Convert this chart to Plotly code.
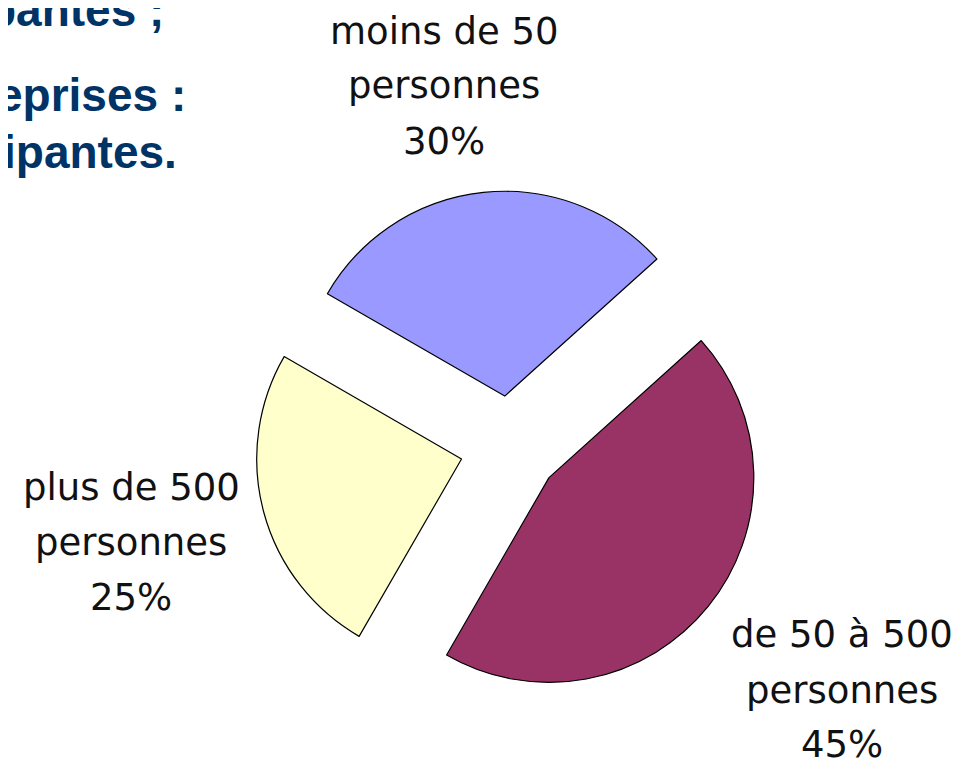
import plotly.graph_objects as go

# ---- data ----
categories = ["moins de 50 personnes", "de 50 à 500 personnes", "plus de 500 personnes"]
label_line1 = ["moins de 50", "de 50 à 500", "plus de 500"]
label_line2 = ["personnes", "personnes", "personnes"]
values = [30, 45, 25]
colors = ["#9999FF", "#993366", "#FFFFCC"]
slide_text = ["pantes ;", "eprises :", "ipantes."]

# page has an 8px body margin; size the figure so it fits the 977x762 window
OFF = 8
W, H = 977 - OFF, 762 - OFF


def px(x):
    return (x - OFF) / W


def py(y):
    return 1 - (y - OFF) / H


total = sum(values)
percents = [f"{round(100 * v / total)}%" for v in values]

fig = go.Figure()
fig.add_trace(go.Pie(
    labels=categories,
    values=values,
    sort=False,
    direction="clockwise",
    rotation=-60,
    pull=[0.245, 0.245, 0.245],
    marker=dict(colors=colors, line=dict(color="black", width=1.2)),
    textinfo="none",
    hoverinfo="label+percent",
    showlegend=False,
    domain=dict(x=[px(255), px(765)], y=[py(701), py(191)]),
))

# label positions (page pixel centres) for each category
label_pos = [(444, [31, 86, 141]), (842, [634, 690, 744]), (131, [487, 542, 597])]
annotations = []
for i, (cx, ys) in enumerate(label_pos):
    for txt, y in zip([label_line1[i], label_line2[i], percents[i]], ys):
        annotations.append(dict(
            x=px(cx), y=py(y), xref="paper", yref="paper",
            text=txt, showarrow=False, xanchor="center", yanchor="middle",
            font=dict(family="DejaVu Sans", size=37, color="#111111"),
        ))

# partially visible slide text at top-left
slide_pos = [(166, 10), (188, 95), (179, 152)]
for txt, (rx, cy) in zip(slide_text, slide_pos):
    annotations.append(dict(
        x=px(rx), y=py(cy), xref="paper", yref="paper",
        text=f"<b>{txt}</b>", showarrow=False, xanchor="right", yanchor="middle",
        font=dict(family="Liberation Sans, Arial", size=46, color="#003366"),
    ))

fig.update_layout(
    width=W, height=H,
    margin=dict(l=0, r=0, t=0, b=0),
    paper_bgcolor="white",
    plot_bgcolor="white",
    annotations=annotations,
)

fig.write_html("out.html")
